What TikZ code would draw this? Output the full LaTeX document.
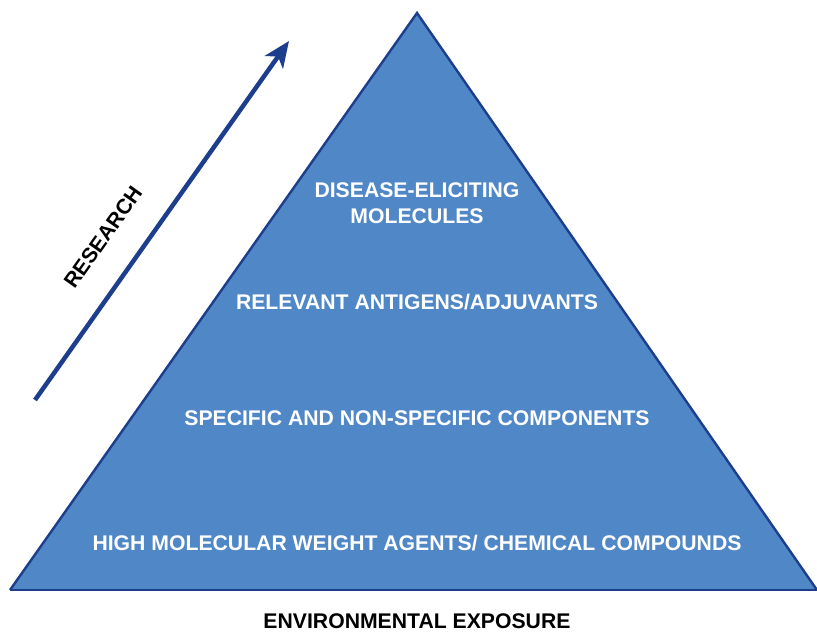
\documentclass[tikz,border=0pt]{standalone}
\usepackage{fontspec}
\setmainfont{Liberation Sans}
\usetikzlibrary{arrows.meta}
\definecolor{pyrfill}{RGB}{80,135,199}
\definecolor{pyredge}{RGB}{28,62,140}
\definecolor{arrowcol}{RGB}{28,62,140}
\tikzset{
  lvl/.style={text=white, font=\fontsize{21.2}{26}\selectfont\bfseries, align=center},
  lbl/.style={text=black, font=\fontsize{21.2}{24}\selectfont\bfseries, inner sep=0pt},
}
\begin{document}
\begin{tikzpicture}[x=1pt,y=-1pt]
\useasboundingbox (0,0) rectangle (817,632);
\coordinate (apex) at (417,13);
\coordinate (bl) at (10,590);
\coordinate (br) at (817,590);
\fill[pyrfill] (apex) -- (br) -- (bl) -- cycle;
\draw[pyredge, line width=2.4pt, line join=miter] (bl) -- (apex) -- (br);
\draw[pyredge, line width=2.4pt] (bl) -- (br);
\node[lvl] (l4) at (417,203) {DISEASE-ELICITING\\MOLECULES};
\node[lvl] (l3) at (417,302) {RELEVANT ANTIGENS/ADJUVANTS};
\node[lvl] (l2) at (417,418) {SPECIFIC AND NON-SPECIFIC COMPONENTS};
\node[lvl] (l1) at (417,543) {HIGH MOLECULAR WEIGHT AGENTS/ CHEMICAL COMPOUNDS};
\node[lbl] (env) at (417,621) {ENVIRONMENTAL EXPOSURE};
\coordinate (rs) at (35,400);
\coordinate (re) at (289,41);
\draw[arrowcol, line width=4.5pt, -{Stealth[length=26pt,width=22pt,inset=7pt]}] (rs) -- (re);
\node[lbl, rotate=54.7] (res) at (103,237) {RESEARCH};
\end{tikzpicture}
\end{document}
